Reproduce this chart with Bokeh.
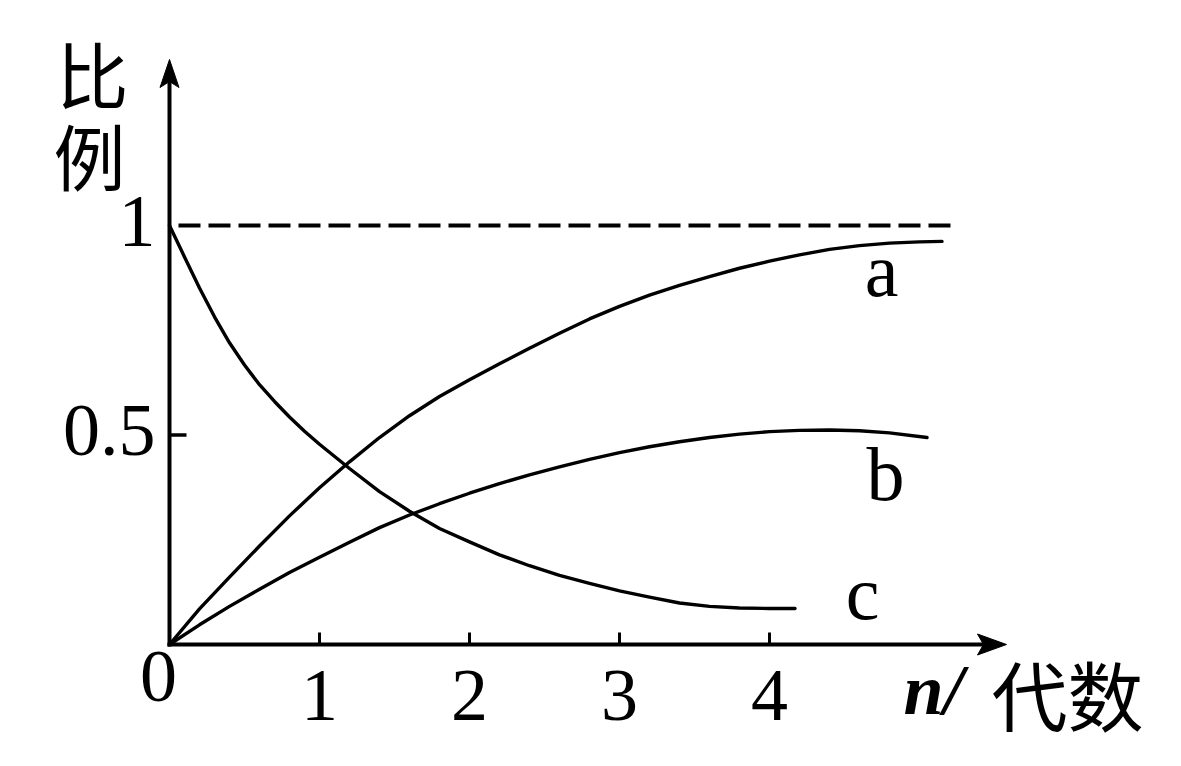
from bokeh.plotting import figure
from bokeh.models import Range1d
from bokeh.core.properties import value
from bokeh.embed import file_html
from bokeh.resources import INLINE

# ---- data ----
a_x = [0, 0.2, 0.4, 0.6, 0.8, 1.0, 1.2, 1.4, 1.6, 1.8, 2.0, 2.2, 2.4, 2.6, 2.8, 3.0, 3.2, 3.4, 3.6, 3.8, 4.0, 4.2, 4.4, 4.6, 4.8, 5.0, 5.15]
a_y = [0, 0.085, 0.161, 0.235, 0.307, 0.374, 0.436, 0.494, 0.546, 0.592, 0.632, 0.670, 0.707, 0.743, 0.777, 0.807, 0.834, 0.857, 0.878, 0.898, 0.915, 0.930, 0.943, 0.952, 0.958, 0.961, 0.962]

b_x = [0, 0.2, 0.4, 0.6, 0.8, 1.0, 1.2, 1.4, 1.6, 1.8, 2.0, 2.2, 2.4, 2.6, 2.8, 3.0, 3.2, 3.4, 3.6, 3.8, 4.0, 4.2, 4.4, 4.6, 4.8, 5.05]
b_y = [0, 0.047, 0.091, 0.132, 0.172, 0.208, 0.244, 0.279, 0.309, 0.336, 0.361, 0.384, 0.405, 0.424, 0.442, 0.458, 0.472, 0.484, 0.494, 0.502, 0.508, 0.511, 0.512, 0.510, 0.505, 0.494]

c_x = [0, 0.1, 0.2, 0.3, 0.4, 0.5, 0.6, 0.7, 0.8, 0.9, 1.0, 1.2, 1.4, 1.6, 1.8, 2.0, 2.2, 2.4, 2.6, 2.8, 3.0, 3.2, 3.4, 3.6, 3.8, 4.0, 4.17]
c_y = [1.0, 0.925, 0.851, 0.782, 0.720, 0.667, 0.620, 0.580, 0.543, 0.509, 0.478, 0.420, 0.365, 0.318, 0.277, 0.245, 0.214, 0.188, 0.165, 0.146, 0.128, 0.113, 0.099, 0.091, 0.087, 0.086, 0.086]

x_ticks = [1, 2, 3, 4]
x_tick_labels = ["1", "2", "3", "4"]
y_ticks = [0.5]
y_label_texts = ["1", "0.5"]
ref_level = 1.0
series_names = ["a", "b", "c"]

# ---- layout helpers: reference pixel -> data ----
W, H = 1165, 750
X0, Y0 = 169.0, 644.0   # origin in page pixels
SX, SY = 150.0, 419.0   # pixels per unit


def px(X):
    return (X - X0) / SX


def py(Y):
    return (Y0 - Y) / SY


def pyb(Y, size):
    # baseline position, compensating the renderer's baseline placement
    return py(Y - 0.36 * size)


p = figure(width=W, height=H, output_backend="svg", toolbar_location=None,
           x_axis_type=None, y_axis_type=None, min_border=0,
           x_range=Range1d(px(0), px(W)), y_range=Range1d(py(H), py(0)))
p.grid.visible = False
p.outline_line_color = None
p.background_fill_color = "white"
p.border_fill_color = "white"

AX_W = 4

# axis lines
p.line([px(167), px(990)], [0, 0], line_width=AX_W, line_color="black")
p.line([0, 0], [py(646), py(75)], line_width=AX_W, line_color="black")

# arrow heads (shape given in pixel offsets from the tip)
def head(tx, ty, pts):
    xs = [tx + dx / SX for dx, dy in pts]
    ys = [ty - dy / SY for dx, dy in pts]
    p.patch(xs, ys, fill_color="black", line_color="black", line_width=1)

head(px(1006), 0, [(0, 0), (-29, -10.5), (-23, 0), (-29, 10.5)])
head(0, py(59), [(0, 0), (-9.5, 28), (0, 22), (9.5, 28)])

# ticks
p.segment(x0=x_ticks, y0=[0] * len(x_ticks), x1=x_ticks, y1=[py(632)] * len(x_ticks),
          line_width=3, line_color="black")
p.segment(x0=[0] * len(y_ticks), y0=y_ticks, x1=[px(186)] * len(y_ticks), y1=y_ticks,
          line_width=3.5, line_color="black")

# dashed reference line at 1
p.line([px(178), px(952)], [ref_level, ref_level], line_width=4, line_color="black",
       line_dash="22 8")

# curves
for xs, ys in [(a_x, a_y), (b_x, b_y), (c_x, c_y)]:
    p.line(xs, ys, line_width=3.4, line_color="black", line_join="round", line_cap="round")

serif = value("Liberation Serif")
cjk = value("Noto Sans CJK SC")
NUM = 74

# tick labels
p.text(x=x_ticks, y=[pyb(722, NUM)] * len(x_ticks), text=x_tick_labels, text_font=serif,
       text_font_size=f"{NUM}px", text_align="center", text_baseline="alphabetic", text_color="black")
p.text(x=[px(155)] * 2, y=[pyb(248, NUM), pyb(457, NUM)], text=y_label_texts, text_font=serif,
       text_font_size=f"{NUM}px", text_align="right", text_baseline="alphabetic", text_color="black")
p.text(x=[px(158)], y=[pyb(703, NUM)], text=["0"], text_font=serif,
       text_font_size=f"{NUM}px", text_align="center", text_baseline="alphabetic", text_color="black")

# series labels
LET = 76
p.text(x=[px(881), px(885), px(862)], y=[pyb(297, LET), pyb(501, LET), pyb(620, LET)],
       text=series_names, text_font=serif, text_font_size=f"{LET}px", text_align="center",
       text_baseline="alphabetic", text_color="black")

# axis titles
p.text(x=[px(903)], y=[pyb(715, 72)], text=["n/"], text_font=serif, text_font_size="72px",
       text_font_style="bold italic", text_align="left", text_baseline="alphabetic",
       text_color="black")
p.text(x=[px(991)], y=[py(692)], text=["代数"], text_font=cjk, text_font_size="76px",
       text_align="left", text_baseline="middle", text_color="black")
p.text(x=[px(92), px(89)], y=[py(71), py(153)], text=["比", "例"], text_font=cjk,
       text_font_size="72px", text_align="center", text_baseline="middle", text_color="black")

open("out.html", "w").write(file_html(p, INLINE))
